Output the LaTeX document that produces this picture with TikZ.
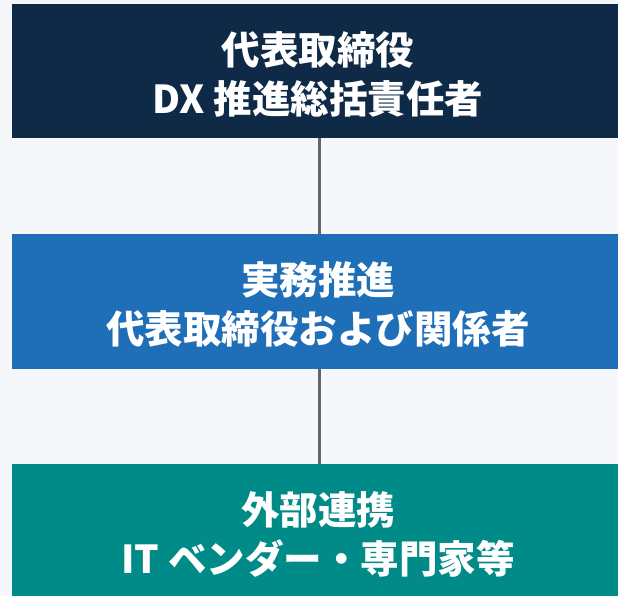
\documentclass[tikz,border=0pt]{standalone}
\usepackage{fontspec}
\setmainfont{Noto Sans CJK JP}
\definecolor{bgcol}{HTML}{F5F7FA}
\definecolor{navy}{HTML}{0E2A47}
\definecolor{midblue}{HTML}{1F6EB8}
\definecolor{teal}{HTML}{008B88}
\definecolor{linecol}{HTML}{5F6770}
\tikzset{
  tierbox/.style={rectangle, draw=none, minimum width=614pt, minimum height=135pt,
    inner sep=0pt, text=white, align=center,
    font=\bfseries\fontsize{38.5pt}{49pt}\selectfont},
  link/.style={draw=linecol, line width=3pt}
}
\begin{document}
\begin{tikzpicture}[x=1pt,y=-1pt]
\useasboundingbox (0,0) rectangle (618,596);
\fill[bgcol] (0,0) rectangle (618,596);
\begin{scope}
\clip (0,0) rectangle (618,596);
\node[tierbox, fill=navy, minimum height=134pt] (top) at (319,71) {};
\node[tierbox, fill=midblue] (mid) at (319,301.5) {};
\node[tierbox, fill=teal] (bot) at (319,531.5) {};
\node[tierbox, fill=none, minimum height=0pt] (toptext) at (318,74) {代表取締役\\DX 推進総括責任者};
\node[tierbox, fill=none, minimum height=0pt] (midtext) at (318,304) {実務推進\\代表取締役および関係者};
\node[tierbox, fill=none, minimum height=0pt] (bottext) at (318,534) {外部連携\\IT ベンダー・専門家等};
\draw[link] (top.south) -- (mid.north);
\draw[link] (mid.south) -- (bot.north);
\end{scope}
\end{tikzpicture}
\end{document}
